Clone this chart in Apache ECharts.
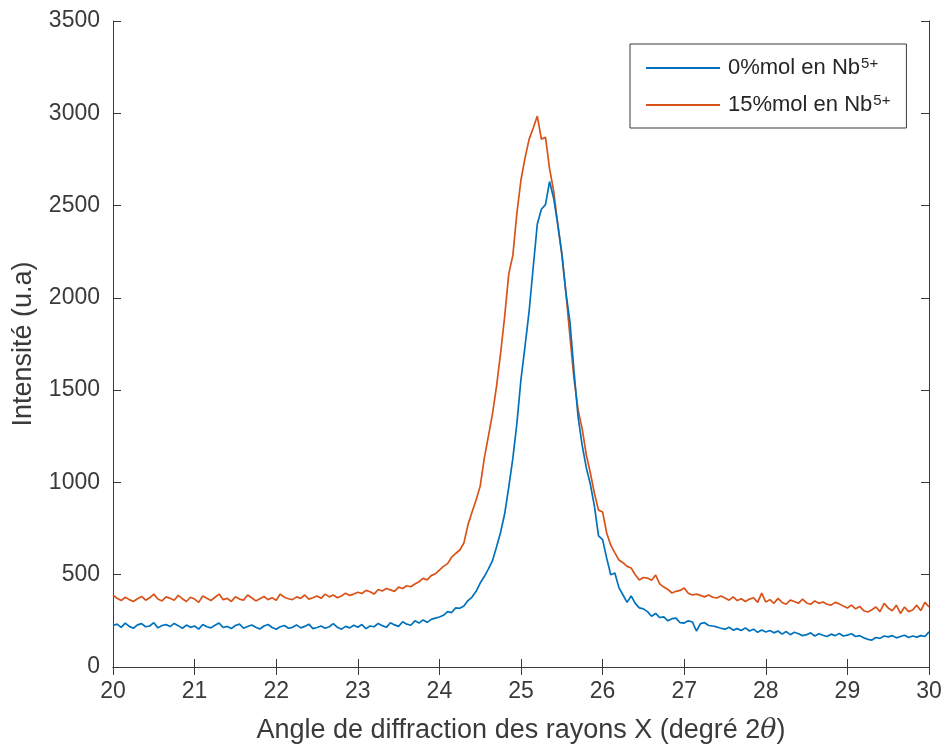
<!DOCTYPE html>
<html>
<head>
<meta charset="utf-8">
<script src="https://cdn.jsdelivr.net/npm/echarts@6/dist/echarts.min.js"></script>
<style>html,body{margin:0;padding:0;background:#fff;}#c{width:944px;height:747px;}</style>
</head>
<body>
<div id="c"></div>
<script>
// X angle (2θ) from 20 to 30 in steps of 0.05
const xStart = 20, xStep = 0.05;
const seriesNames = ['0%mol en Nb', '15%mol en Nb'];
const xTicks = [20,21,22,23,24,25,26,27,28,29,30];
const yTicks = [0,500,1000,1500,2000,2500,3000,3500];

const blue = [
225,232,215,238,220,210,228,235,218,222,240,212,225,230,219,236,224,210,227,215,
222,205,230,218,212,226,238,214,220,208,225,232,210,219,228,215,206,222,230,214,
205,218,225,210,215,228,212,220,232,208,214,222,210,218,235,215,205,220,212,226,
215,230,208,222,218,236,224,215,240,228,220,245,232,226,250,238,255,242,258,265,
271,280,300,295,320,318,330,360,379,410,455,490,530,575,650,730,830,975,1130,1322,
1560,1740,1930,2167,2400,2480,2505,2630,2540,2400,2240,2030,1869,1600,1354,1200,1080,990,870,710,
690,590,500,509,430,390,350,385,345,320,315,300,275,290,268,272,250,262,265,240,
238,250,244,195,235,240,225,222,217,210,205,215,200,208,198,212,195,205,188,200,
190,198,185,195,178,192,175,188,180,170,175,185,168,180,172,165,178,170,182,168,
173,180,165,170,158,150,146,160,155,168,163,170,158,165,172,160,168,162,170,165,
190
];

const red = [
390,372,360,378,365,355,370,382,362,375,395,368,358,380,372,362,388,370,355,378,
368,350,385,372,360,378,395,365,372,355,380,368,362,390,375,358,370,382,365,375,
362,395,378,370,365,380,372,390,368,375,385,372,395,380,390,375,385,400,388,395,
405,398,415,408,395,420,412,425,418,410,433,425,440,435,450,462,480,472,495,505,
525,545,560,595,615,634,672,770,840,905,980,1130,1250,1370,1520,1700,1900,2130,2230,2460,
2640,2760,2860,2920,2985,2860,2870,2700,2580,2400,2240,2030,1790,1560,1392,1290,1150,1051,940,850,
840,726,660,618,580,565,545,536,500,471,485,482,470,498,450,433,420,401,410,415,
428,400,390,395,388,380,390,378,374,385,374,362,380,360,370,355,368,375,350,400,
352,365,345,372,350,340,362,355,345,368,347,340,358,345,352,340,335,350,342,330,
320,335,315,328,305,298,310,325,300,345,320,305,335,290,325,300,309,335,305,350,
325
];

function toPairs(arr){ return arr.map((v,i)=>[+(xStart + i*xStep).toFixed(2), v]); }

const txt = '#3a3a3a';
const axisLine = {show:true, lineStyle:{color:txt, width:1}};
const axisTick = {show:true, inside:true, length:8, lineStyle:{color:txt, width:1}};
const font = 'Liberation Sans, Arial, Helvetica, sans-serif';

const chart = echarts.init(document.getElementById('c'), null, {renderer:'canvas'});
chart.setOption({
  animation:false,
  backgroundColor:'#fff',
  textStyle:{fontFamily:font},
  grid:{left:113, right:15, top:21, bottom:80, containLabel:false, outerBoundsMode:'none'},
  legend:{
    data:seriesNames,
    left:630, top:44,
    orient:'vertical',
    icon:'rect',
    itemWidth:74, itemHeight:2,
    itemGap:10,
    padding:[12,16,8,16],
    borderColor:txt, borderWidth:1,
    backgroundColor:'#fff',
    formatter: n => '{a|' + n + '}{s|5+}',
    textStyle:{
      color:txt, fontFamily:font, fontSize:22,
      rich:{
        a:{fontSize:22, color:'#262626', fontFamily:font, lineHeight:24, padding:[0,0,0,3]},
        s:{fontSize:15, color:'#262626', fontFamily:font, verticalAlign:'top', padding:[0,0,12,1], lineHeight:24}
      }
    }
  },
  xAxis:[{
    type:'value', min:20, max:30, interval:1,
    axisLine:axisLine, axisTick:axisTick, splitLine:{show:false},
    axisLabel:{color:txt, fontSize:23, margin:13, fontFamily:font, formatter:v=>String(v)},
    name:'{n|Angle de diffraction des rayons X (degré 2}{t|θ}{n|)}',
    nameLocation:'middle', nameGap:50,
    nameTextStyle:{rich:{
      n:{fontSize:27, color:txt, fontFamily:font},
      t:{fontSize:27, color:txt, fontFamily:'DejaVu Serif, Liberation Serif, serif', fontStyle:'italic'}
    }}
  },{
    type:'value', position:'top', min:20, max:30, interval:1,
    axisLine:axisLine, axisTick:axisTick, axisLabel:{show:false}, splitLine:{show:false}
  }],
  yAxis:[{
    type:'value', min:0, max:3500, interval:500,
    axisLine:axisLine, axisTick:axisTick, splitLine:{show:false},
    axisLabel:{color:txt, fontSize:23, margin:13, fontFamily:font, formatter:v=>String(v)},
    name:'Intensité (u.a)', nameLocation:'middle', nameGap:76, nameRotate:90,
    nameTextStyle:{fontSize:27, color:txt, fontFamily:font}
  },{
    type:'value', position:'right', min:0, max:3500, interval:500,
    axisLine:axisLine, axisTick:axisTick, axisLabel:{show:false}, splitLine:{show:false}
  }],
  series:[
    {name:seriesNames[0], type:'line', data:toPairs(blue), showSymbol:false, symbol:'none',
     lineStyle:{color:'#0072BD', width:1.7}, itemStyle:{color:'#0072BD'}, z:3},
    {name:seriesNames[1], type:'line', data:toPairs(red), showSymbol:false, symbol:'none',
     lineStyle:{color:'#D95319', width:1.7}, itemStyle:{color:'#D95319'}, z:2}
  ]
});
</script>
</body>
</html>
